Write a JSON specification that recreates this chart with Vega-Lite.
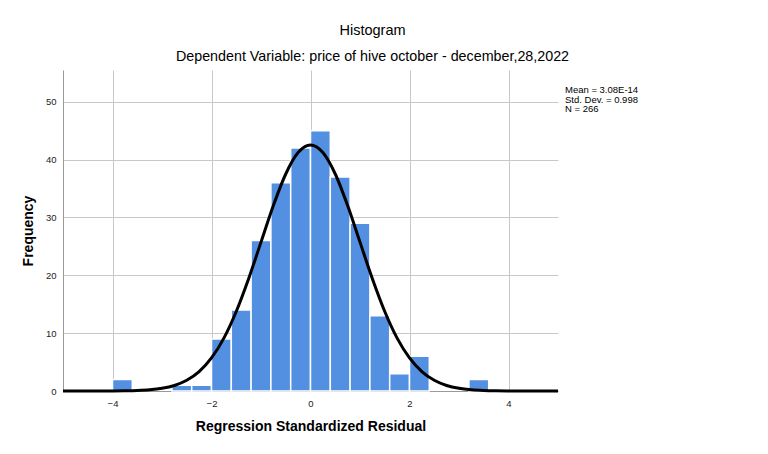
{
  "$schema": "https://vega.github.io/schema/vega-lite/v6.json",
  "width": 495,
  "height": 321,
  "autosize": {"type": "none"},
  "padding": {"left": 63, "top": 70, "right": 210, "bottom": 63},
  "background": "white",
  "title": {
    "text": "Histogram",
    "subtitle": "Dependent Variable: price of hive october - december,28,2022",
    "anchor": "middle",
    "dx": 62,
    "offset": 5,
    "font": "Liberation Sans",
    "fontSize": 14.5,
    "fontWeight": "normal",
    "color": "#000000",
    "subtitleFont": "Liberation Sans",
    "subtitleFontSize": 14.3,
    "subtitleColor": "#000000",
    "subtitlePadding": 11
  },
  "datasets": {
    "bins": [
      {"bin_start": -4.0, "bin_end": -3.6, "count": 2},
      {"bin_start": -2.8, "bin_end": -2.4, "count": 1},
      {"bin_start": -2.4, "bin_end": -2.0, "count": 1},
      {"bin_start": -2.0, "bin_end": -1.6, "count": 9},
      {"bin_start": -1.6, "bin_end": -1.2, "count": 14},
      {"bin_start": -1.2, "bin_end": -0.8, "count": 26},
      {"bin_start": -0.8, "bin_end": -0.4, "count": 36},
      {"bin_start": -0.4, "bin_end": 0.0, "count": 42},
      {"bin_start": 0.0, "bin_end": 0.4, "count": 45},
      {"bin_start": 0.4, "bin_end": 0.8, "count": 37},
      {"bin_start": 0.8, "bin_end": 1.2, "count": 29},
      {"bin_start": 1.2, "bin_end": 1.6, "count": 13},
      {"bin_start": 1.6, "bin_end": 2.0, "count": 3},
      {"bin_start": 2.0, "bin_end": 2.4, "count": 6},
      {"bin_start": 3.2, "bin_end": 3.6, "count": 2}
    ],
    "curve": [
      {"x": -5.0, "y": 0.0001},
      {"x": -4.75, "y": 0.0005},
      {"x": -4.5, "y": 0.002},
      {"x": -4.25, "y": 0.005},
      {"x": -4.0, "y": 0.014},
      {"x": -3.75, "y": 0.037},
      {"x": -3.5, "y": 0.091},
      {"x": -3.25, "y": 0.212},
      {"x": -3.0, "y": 0.464},
      {"x": -2.75, "y": 0.955},
      {"x": -2.5, "y": 1.85},
      {"x": -2.25, "y": 3.35},
      {"x": -2.0, "y": 5.71},
      {"x": -1.75, "y": 9.14},
      {"x": -1.5, "y": 13.75},
      {"x": -1.25, "y": 19.41},
      {"x": -1.0, "y": 25.74},
      {"x": -0.75, "y": 32.07},
      {"x": -0.5, "y": 37.52},
      {"x": -0.25, "y": 41.22},
      {"x": 0.0, "y": 42.53},
      {"x": 0.25, "y": 41.22},
      {"x": 0.5, "y": 37.52},
      {"x": 0.75, "y": 32.07},
      {"x": 1.0, "y": 25.74},
      {"x": 1.25, "y": 19.41},
      {"x": 1.5, "y": 13.75},
      {"x": 1.75, "y": 9.14},
      {"x": 2.0, "y": 5.71},
      {"x": 2.25, "y": 3.35},
      {"x": 2.5, "y": 1.85},
      {"x": 2.75, "y": 0.955},
      {"x": 3.0, "y": 0.464},
      {"x": 3.25, "y": 0.212},
      {"x": 3.5, "y": 0.091},
      {"x": 3.75, "y": 0.037},
      {"x": 4.0, "y": 0.014},
      {"x": 4.25, "y": 0.005},
      {"x": 4.5, "y": 0.002},
      {"x": 4.75, "y": 0.0005},
      {"x": 5.0, "y": 0.0001}
    ],
    "stats": [
      {"label": "Mean = 3.08E-14\nStd. Dev. = 0.998\nN = 266"}
    ]
  },
  "layer": [
    {
      "data": {"name": "bins"},
      "mark": {"type": "rect", "color": "#5490e2", "stroke": "white", "strokeWidth": 1.5},
      "encoding": {
        "x": {
          "field": "bin_start",
          "type": "quantitative",
          "scale": {"domain": [-5, 5], "nice": false, "zero": false},
          "axis": {
            "values": [-4, -2, 0, 2, 4],
            "title": "Regression Standardized Residual",
            "grid": true,
            "gridColor": "#c8c8c8",
            "ticks": false,
            "domainColor": "#999999",
            "labelFont": "Liberation Sans",
            "labelFontSize": 9.5,
            "labelColor": "#222222",
            "labelPadding": 7,
            "titleFont": "Liberation Sans",
            "titleFontSize": 14,
            "titleFontWeight": "bold",
            "titleColor": "#000000",
            "titlePadding": 12
          }
        },
        "x2": {"field": "bin_end"},
        "y": {
          "field": "count",
          "type": "quantitative",
          "scale": {"domain": [0, 55.5], "nice": false},
          "axis": {
            "values": [0, 10, 20, 30, 40, 50],
            "title": "Frequency",
            "grid": true,
            "gridColor": "#c8c8c8",
            "ticks": false,
            "domainColor": "#999999",
            "labelFont": "Liberation Sans",
            "labelFontSize": 9.5,
            "labelColor": "#222222",
            "labelPadding": 7,
            "titleFont": "Liberation Sans",
            "titleFontSize": 14,
            "titleFontWeight": "bold",
            "titleColor": "#000000",
            "titlePadding": 10
          }
        },
        "y2": {"datum": 0}
      }
    },
    {
      "data": {"name": "curve"},
      "mark": {"type": "line", "color": "black", "strokeWidth": 3, "interpolate": "monotone"},
      "encoding": {
        "x": {"field": "x", "type": "quantitative"},
        "y": {"field": "y", "type": "quantitative"}
      }
    },
    {
      "data": {"name": "stats"},
      "mark": {"type": "text", "align": "left", "baseline": "alphabetic", "dx": 7, "dy": 23, "font": "Liberation Sans", "fontSize": 9.5, "lineHeight": 9.5, "lineBreak": "\n", "color": "#000000", "clip": false},
      "encoding": {
        "x": {"datum": 5},
        "y": {"datum": 55.5},
        "text": {"field": "label"}
      }
    }
  ],
  "config": {
    "view": {"stroke": null}
  }
}
